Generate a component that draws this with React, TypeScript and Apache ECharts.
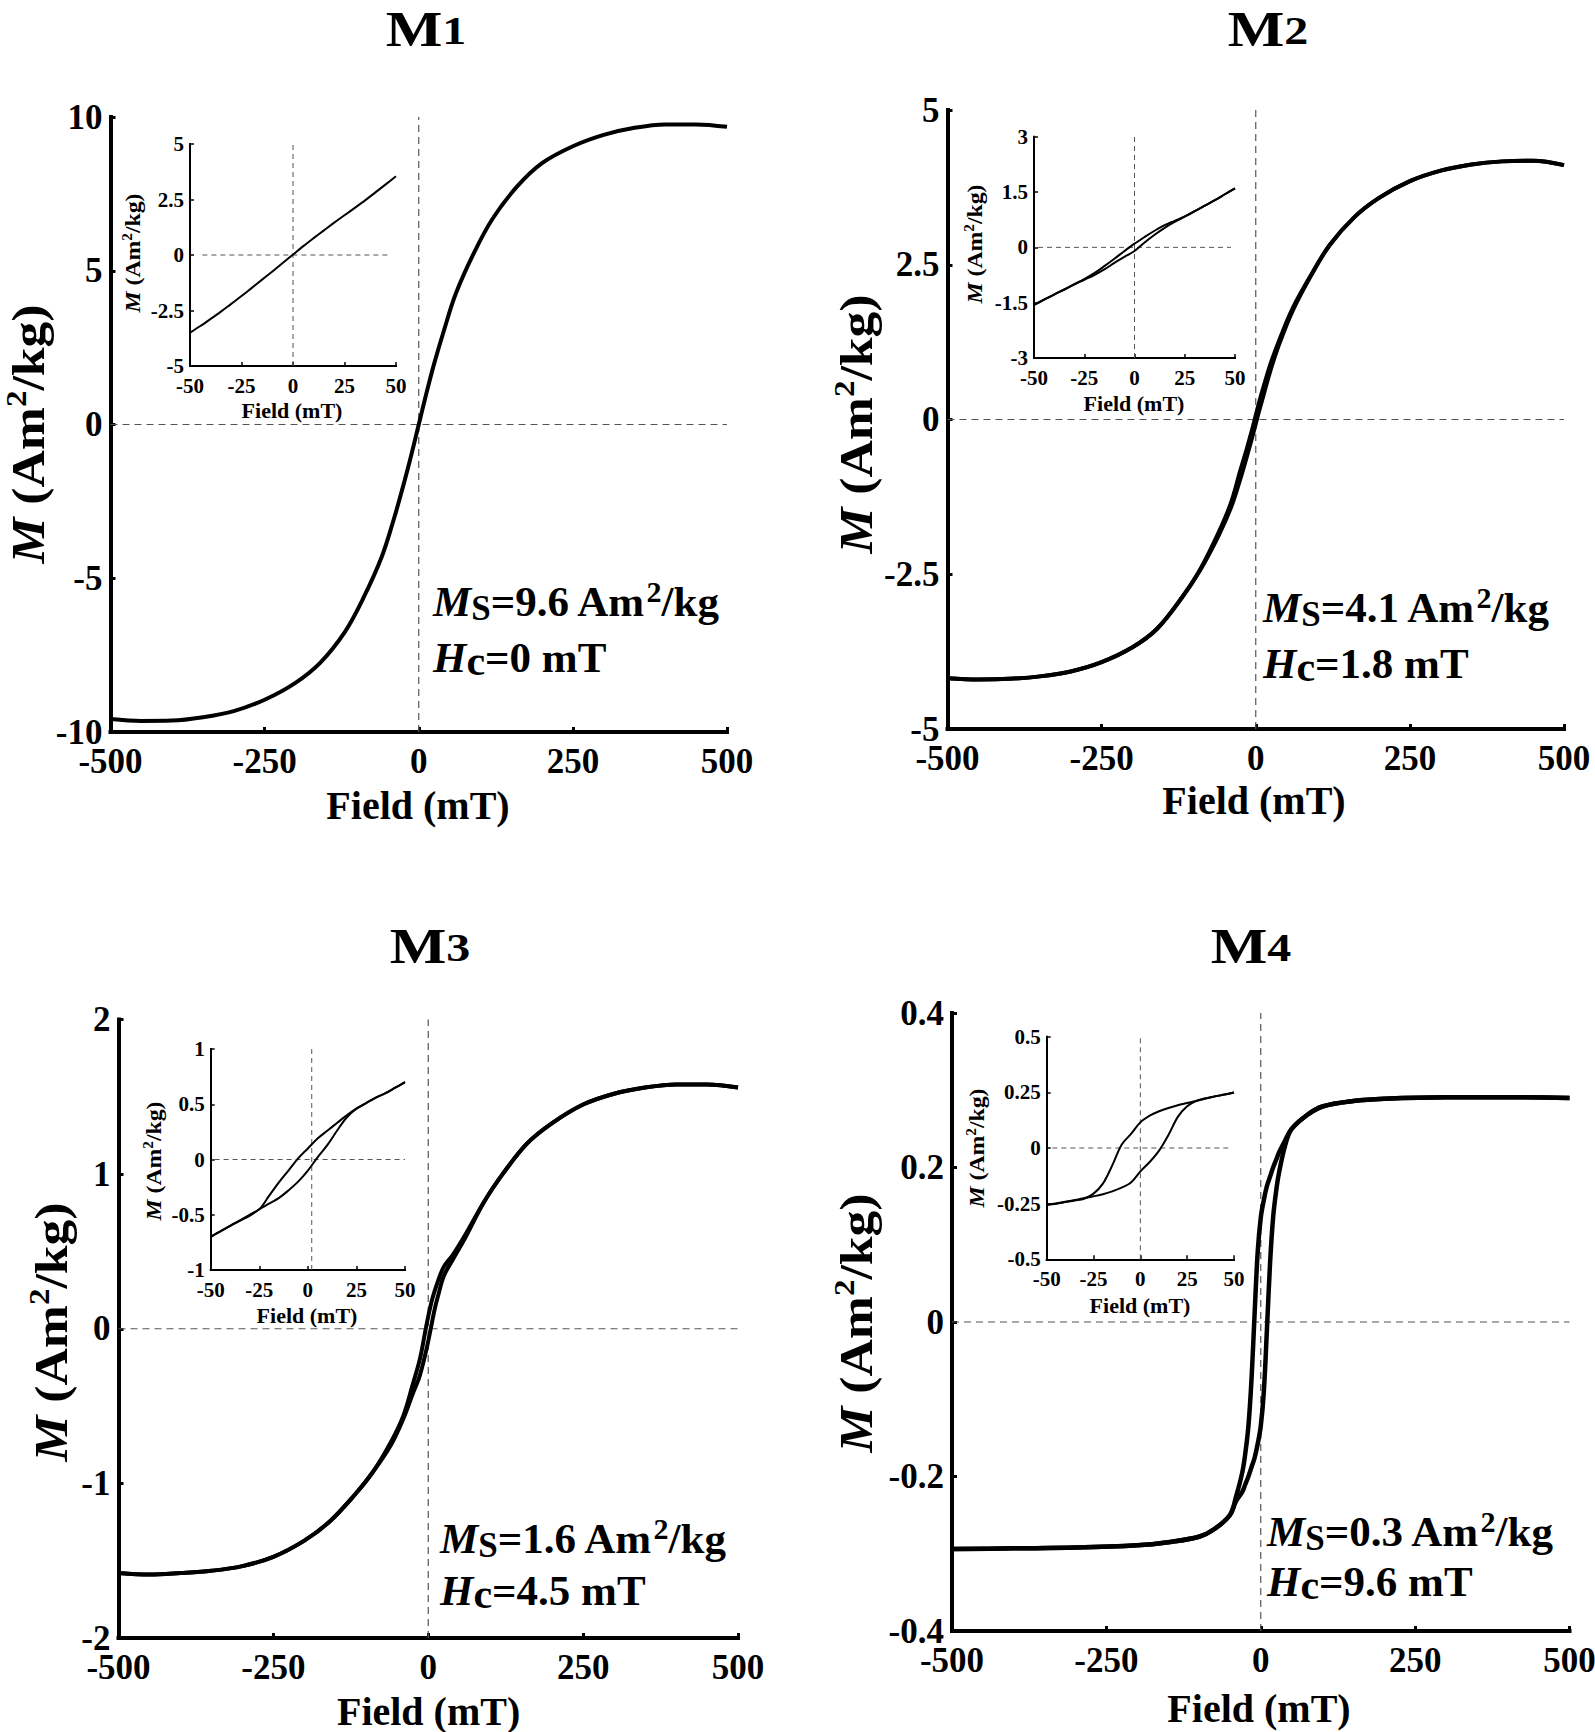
import React, { useEffect, useRef } from 'react';
import * as echarts from 'echarts';

const FONT = "'Liberation Serif', 'Times New Roman', Times, serif";

// ---------- tick labels ----------
const MAIN_X_TICKS = [-500, -250, 0, 250, 500];
const INSET_X_TICKS = [-50, -25, 0, 25, 50];
const M1_Y_TICKS = [-10, -5, 0, 5, 10];
const M2_Y_TICKS = [-5, -2.5, 0, 2.5, 5];
const M3_Y_TICKS = [-2, -1, 0, 1, 2];
const M4_Y_TICKS = [-0.4, -0.2, 0, 0.2, 0.4];
const M1_INSET_Y_TICKS = [-5, -2.5, 0, 2.5, 5];
const M2_INSET_Y_TICKS = [-3, -1.5, 0, 1.5, 3];
const M3_INSET_Y_TICKS = [-1, -0.5, 0, 0.5, 1];
const M4_INSET_Y_TICKS = [-0.5, -0.25, 0, 0.25, 0.5];

// ---------- texts ----------
const SAMPLE_INDEX = ['1', '2', '3', '4'];
const MS_VALUES = ['9.6', '4.1', '1.6', '0.3'];
const HC_VALUES = ['0', '1.8', '4.5', '9.6'];

// ---------- main loops (field in mT, M in Am2/kg) ----------
const MAIN_FIELD = [-500, -450, -400, -350, -300, -250, -200, -160, -120, -90, -60, -40, -25, -15, -10, -5, 0, 5, 10, 15, 25, 40, 60, 90, 120, 160, 200, 250, 300, 350, 400, 450, 500];
const M1_M = [-9.58, -9.64, -9.63, -9.52, -9.32, -8.95, -8.4, -7.75, -6.75, -5.65, -4.3, -3.05, -1.98, -1.22, -0.82, -0.41, 0, 0.41, 0.82, 1.22, 1.98, 3.0, 4.25, 5.6, 6.7, 7.75, 8.5, 9.05, 9.42, 9.65, 9.76, 9.76, 9.68];
const M2_DOWN = [-4.18, -4.2, -4.19, -4.15, -4.07, -3.92, -3.68, -3.38, -2.88, -2.42, -1.82, -1.34, -0.82, -0.49, -0.31, -0.13, 0.07, 0.26, 0.44, 0.61, 0.93, 1.33, 1.8, 2.34, 2.82, 3.27, 3.58, 3.85, 4.02, 4.12, 4.17, 4.18, 4.11];
const M2_UP = [-4.18, -4.2, -4.19, -4.15, -4.07, -3.92, -3.68, -3.38, -2.88, -2.43, -1.87, -1.42, -0.96, -0.62, -0.44, -0.26, -0.07, 0.12, 0.3, 0.48, 0.83, 1.27, 1.76, 2.33, 2.82, 3.27, 3.58, 3.85, 4.02, 4.12, 4.17, 4.18, 4.11];
const M3_DOWN = [-1.58, -1.59, -1.58, -1.565, -1.535, -1.475, -1.37, -1.25, -1.08, -0.93, -0.73, -0.56, -0.36, -0.22, -0.13, -0.02, 0.08, 0.17, 0.24, 0.3, 0.4, 0.48, 0.61, 0.82, 1.0, 1.2, 1.33, 1.45, 1.52, 1.56, 1.58, 1.58, 1.56];
const M3_UP = [-1.58, -1.59, -1.58, -1.565, -1.535, -1.475, -1.37, -1.25, -1.08, -0.93, -0.75, -0.58, -0.42, -0.32, -0.25, -0.17, -0.08, 0.02, 0.12, 0.2, 0.34, 0.45, 0.59, 0.82, 1.0, 1.2, 1.33, 1.45, 1.52, 1.56, 1.58, 1.58, 1.56];
const M4_FIELD = [-500, -400, -300, -200, -150, -100, -75, -50, -40, -30, -25, -20, -15, -10, -5, 0, 5, 10, 15, 20, 25, 30, 40, 50, 75, 100, 150, 200, 300, 400, 500];
const M4_DOWN = [-0.294, -0.293, -0.292, -0.289, -0.285, -0.278, -0.268, -0.25, -0.226, -0.195, -0.17, -0.135, -0.075, 0.01, 0.09, 0.135, 0.158, 0.176, 0.188, 0.2, 0.21, 0.22, 0.236, 0.25, 0.268, 0.279, 0.286, 0.289, 0.291, 0.291, 0.29];
const M4_UP = [-0.294, -0.293, -0.292, -0.289, -0.285, -0.278, -0.268, -0.25, -0.232, -0.22, -0.21, -0.2, -0.188, -0.176, -0.158, -0.135, -0.09, -0.01, 0.075, 0.135, 0.17, 0.195, 0.23, 0.25, 0.268, 0.279, 0.286, 0.289, 0.291, 0.291, 0.29];

// ---------- insets (low-field loops) ----------
const INSET_FIELD = [-50, -45, -40, -35, -30, -25, -20, -15, -10, -5, 0, 5, 10, 15, 20, 25, 30, 35, 40, 45, 50];
const M1_INSET = [-3.5, -3.2, -2.88, -2.55, -2.2, -1.85, -1.48, -1.11, -0.74, -0.36, 0.02, 0.4, 0.76, 1.11, 1.46, 1.79, 2.12, 2.46, 2.82, 3.18, 3.55];
const M2_INSET_DOWN = [-1.56, -1.42, -1.28, -1.14, -1.0, -0.86, -0.7, -0.51, -0.31, -0.1, 0.1, 0.28, 0.45, 0.6, 0.72, 0.84, 0.98, 1.13, 1.28, 1.44, 1.6];
const M2_INSET_UP = [-1.56, -1.42, -1.28, -1.15, -1.01, -0.88, -0.75, -0.6, -0.42, -0.26, -0.1, 0.13, 0.34, 0.53, 0.69, 0.83, 0.98, 1.13, 1.28, 1.44, 1.6];
const M3_INSET_DOWN = [-0.7, -0.65, -0.6, -0.55, -0.5, -0.45, -0.33, -0.21, -0.1, 0.01, 0.1, 0.19, 0.26, 0.33, 0.4, 0.46, 0.51, 0.56, 0.6, 0.65, 0.7];
const M3_INSET_UP = [-0.7, -0.65, -0.6, -0.555, -0.51, -0.45, -0.4, -0.35, -0.28, -0.2, -0.1, 0.02, 0.13, 0.26, 0.38, 0.46, 0.51, 0.56, 0.6, 0.65, 0.7];
const M4_INSET_DOWN = [-0.255, -0.25, -0.243, -0.236, -0.228, -0.205, -0.16, -0.078, 0.015, 0.063, 0.115, 0.145, 0.165, 0.18, 0.192, 0.202, 0.212, 0.222, 0.232, 0.24, 0.249];
const M4_INSET_UP = [-0.255, -0.249, -0.241, -0.234, -0.225, -0.217, -0.208, -0.195, -0.178, -0.155, -0.105, -0.063, -0.012, 0.058, 0.14, 0.188, 0.212, 0.224, 0.232, 0.24, 0.249];

// zero reference lines (data units) for the insets: [hFrom, hTo, vAt]
const INSET_ZERO_LINES = [
  [-44, 46, 0],
  [-48, 48, 0],
  [-48, 50, 2],
  [-47, 48, 0],
];

// ---------- layout (pixels) ----------
const LAYOUT = [
  {
    main: { left: 110.5, top: 117, width: 616.5, height: 615 },
    inset: { left: 190, top: 144, width: 206, height: 222 },
    title: [426, 29], yName: [28, 434], xName: [418, 805], insetY: [133, 253], insetX: [292, 410], note: [433, 601, 657],
  },
  {
    main: { left: 947.5, top: 110, width: 616.5, height: 619 },
    inset: { left: 1034, top: 136.7, width: 201, height: 221.3 },
    title: [1268, 29], yName: [856, 424], xName: [1254, 800], insetY: [975, 244], insetX: [1134, 403], note: [1263, 607, 663],
  },
  {
    main: { left: 118.5, top: 1019.5, width: 619.5, height: 618.5 },
    inset: { left: 210.7, top: 1049, width: 194.3, height: 221 },
    title: [430, 946], yName: [51, 1332], xName: [428.6, 1711], insetY: [154, 1161], insetX: [307, 1315], note: [440, 1538, 1590],
  },
  {
    main: { left: 952, top: 1013, width: 617.5, height: 618 },
    inset: { left: 1046.7, top: 1036.7, width: 187.3, height: 222.6 },
    title: [1251, 946], yName: [856, 1323], xName: [1259, 1708], insetY: [977, 1148], insetX: [1140, 1305], note: [1267, 1531, 1581],
  },
];

const PANEL_DATA = [
  { yTicks: M1_Y_TICKS, insetYTicks: M1_INSET_Y_TICKS, field: MAIN_FIELD, branches: [M1_M], insetBranches: [M1_INSET] },
  { yTicks: M2_Y_TICKS, insetYTicks: M2_INSET_Y_TICKS, field: MAIN_FIELD, branches: [M2_DOWN, M2_UP], insetBranches: [M2_INSET_DOWN, M2_INSET_UP] },
  { yTicks: M3_Y_TICKS, insetYTicks: M3_INSET_Y_TICKS, field: MAIN_FIELD, branches: [M3_DOWN, M3_UP], insetBranches: [M3_INSET_DOWN, M3_INSET_UP] },
  { yTicks: M4_Y_TICKS, insetYTicks: M4_INSET_Y_TICKS, field: M4_FIELD, branches: [M4_DOWN, M4_UP], insetBranches: [M4_INSET_DOWN, M4_INSET_UP] },
];

const zip = (xs: number[], ys: number[]) => xs.map((x, i) => [x, ys[i]]);

function axis(kind: 'x' | 'y', gridIndex: number, ticks: number[], big: boolean) {
  return {
    type: 'value',
    gridIndex,
    min: ticks[0],
    max: ticks[ticks.length - 1],
    interval: ticks[1] - ticks[0],
    axisLine: { show: true, onZero: false, lineStyle: { color: '#000', width: big ? 4 : 2, cap: 'square' } },
    axisTick: { show: true, inside: true, length: big ? 5 : 4, lineStyle: { color: '#000', width: big ? 3 : 1.5 } },
    axisLabel: {
      show: true,
      color: '#000',
      fontFamily: FONT,
      fontWeight: 'bold',
      fontSize: big ? 35 : 21,
      lineHeight: big ? 28 : 18,
      margin: kind === 'x' ? (big ? 15 : 11) : big ? 8 : 6,
    },
    splitLine: { show: false },
  };
}

function txt(size: number, extra: any = {}) {
  return { fontFamily: FONT, fontSize: size, fontWeight: 'bold', fill: '#000', ...extra };
}

function buildOption() {
  const grid: any[] = [];
  const xAxis: any[] = [];
  const yAxis: any[] = [];
  const series: any[] = [];
  const graphic: any[] = [];

  LAYOUT.forEach((lay, p) => {
    const d = PANEL_DATA[p];
    const gi = p * 2;
    const ii = p * 2 + 1;
    grid.push({ ...lay.main, outerBoundsMode: 'none', containLabel: false });
    grid.push({ ...lay.inset, outerBoundsMode: 'none', containLabel: false });
    xAxis.push(axis('x', gi, MAIN_X_TICKS, true));
    yAxis.push(axis('y', gi, d.yTicks, true));
    xAxis.push(axis('x', ii, INSET_X_TICKS, false));
    yAxis.push(axis('y', ii, d.insetYTicks, false));

    const yMin = d.yTicks[0];
    const yMax = d.yTicks[d.yTicks.length - 1];
    const dash = (idx: number, data: number[][], w: number, pat: number[]) => ({
      type: 'line', xAxisIndex: idx, yAxisIndex: idx, data, symbol: 'none', silent: true, z: 1,
      lineStyle: { color: '#555', width: w, type: pat },
    });
    series.push(dash(gi, [[0, yMin], [0, yMax]], 1.2, [7, 5]));
    series.push(dash(gi, [[MAIN_X_TICKS[0], 0], [MAIN_X_TICKS[MAIN_X_TICKS.length - 1], 0]], 1.2, [7, 5]));
    d.branches.forEach((b) => {
      series.push({
        type: 'line', xAxisIndex: gi, yAxisIndex: gi, data: zip(d.field, b), symbol: 'none', showSymbol: false,
        smooth: 0.35, silent: true, z: 3, lineStyle: { color: '#000', width: p === 3 ? 4.5 : 4, join: 'round' },
      });
    });

    const iyMin = d.insetYTicks[0];
    const iyMax = d.insetYTicks[d.insetYTicks.length - 1];
    const zl = INSET_ZERO_LINES[p];
    series.push(dash(ii, [[zl[2], iyMin], [zl[2], iyMax]], 1, [5, 4]));
    series.push(dash(ii, [[zl[0], 0], [zl[1], 0]], 1, [5, 4]));
    d.insetBranches.forEach((b) => {
      series.push({
        type: 'line', xAxisIndex: ii, yAxisIndex: ii, data: zip(INSET_FIELD, b), symbol: 'none', showSymbol: false,
        smooth: 0.35, silent: true, z: 3, lineStyle: { color: '#000', width: 2, join: 'round' },
      });
    });

    // title
    graphic.push({
      type: 'text', x: lay.title[0], y: lay.title[1], scaleX: 1.2, silent: true,
      style: {
        text: `{m|M}{s|${SAMPLE_INDEX[p]}}`, align: 'center', verticalAlign: 'middle',
        rich: {
          m: txt(50, { lineHeight: 44 }),
          s: txt(40, { lineHeight: 32, verticalAlign: 'bottom' }),
        },
      },
    });
    // main y name
    graphic.push({
      type: 'text', x: lay.yName[0], y: lay.yName[1], rotation: Math.PI / 2, scaleX: 1.1, silent: true,
      style: {
        text: '{mi|M}{n| (Am}{sup|2}{n|/kg)}', align: 'center', verticalAlign: 'middle',
        rich: {
          mi: txt(47, { fontStyle: 'italic', lineHeight: 54 }),
          n: txt(47, { lineHeight: 54 }),
          sup: txt(30, { lineHeight: 39, verticalAlign: 'top' }),
        },
      },
    });
    // main x name
    graphic.push({
      type: 'text', x: lay.xName[0], y: lay.xName[1], silent: true,
      style: { text: 'Field (mT)', align: 'center', verticalAlign: 'middle', ...txt(40) },
    });
    // inset y name
    graphic.push({
      type: 'text', x: lay.insetY[0], y: lay.insetY[1], rotation: Math.PI / 2, scaleX: 1.08, silent: true,
      style: {
        text: '{mi|M}{n| (Am}{sup|2}{n|/kg)}', align: 'center', verticalAlign: 'middle',
        rich: {
          mi: txt(22, { fontStyle: 'italic', lineHeight: 26 }),
          n: txt(22, { lineHeight: 26 }),
          sup: txt(14, { lineHeight: 19, verticalAlign: 'top' }),
        },
      },
    });
    // inset x name
    graphic.push({
      type: 'text', x: lay.insetX[0], y: lay.insetX[1], silent: true,
      style: { text: 'Field (mT)', align: 'center', verticalAlign: 'middle', ...txt(22) },
    });
    // annotations
    const noteRich = {
      mi: txt(43, { fontStyle: 'italic', lineHeight: 50 }),
      n: txt(43, { lineHeight: 50 }),
      sub: txt(35, { lineHeight: 30, verticalAlign: 'bottom' }),
      subc: txt(42, { lineHeight: 30, verticalAlign: 'bottom' }),
      sup: txt(30, { lineHeight: 42, verticalAlign: 'top' }),
    };
    graphic.push({
      type: 'text', x: lay.note[0], y: lay.note[1], silent: true,
      style: {
        text: `{mi|M}{sub|S}{n|=${MS_VALUES[p]} Am}{sup|2}{n|/kg}`, align: 'left', verticalAlign: 'middle', rich: noteRich,
      },
    });
    graphic.push({
      type: 'text', x: lay.note[0], y: lay.note[2], silent: true,
      style: {
        text: `{mi|H}{subc|c}{n|=${HC_VALUES[p]} mT}`, align: 'left', verticalAlign: 'middle', rich: noteRich,
      },
    });
  });

  return {
    animation: false,
    backgroundColor: '#fff',
    grid,
    xAxis,
    yAxis,
    series,
    graphic: { elements: graphic },
  };
}

export default function App() {
  const ref = useRef<HTMLDivElement>(null);
  useEffect(() => {
    if (!ref.current) return;
    const chart = echarts.init(ref.current, null, { renderer: 'svg' });
    chart.setOption(buildOption() as any);
    return () => {
      chart.dispose();
    };
  }, []);
  return <div ref={ref} style={{ position: 'absolute', left: 0, top: 0, width: 1595, height: 1732, background: '#fff' }} />;
}
